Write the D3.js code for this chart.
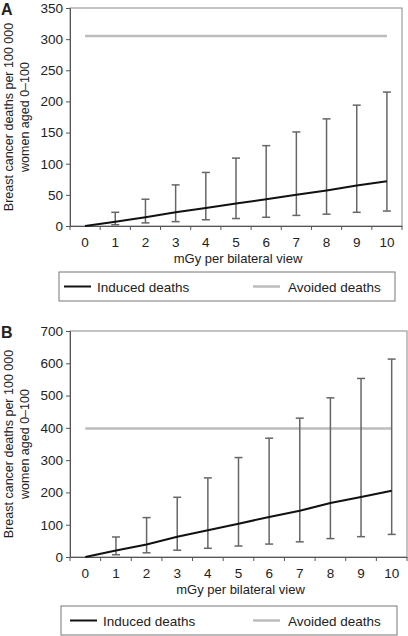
<!DOCTYPE html>
<html><head><meta charset="utf-8">
<script src="https://cdn.jsdelivr.net/npm/d3@7"></script>
<style>body{margin:0;background:#fff}svg{display:block}text{font-family:"Liberation Sans",Arial,sans-serif;fill:#222}</style>
</head><body><svg id="c" width="408" height="636"></svg>
<script>
const categories = [0,1,2,3,4,5,6,7,8,9,10];
const inducedA = [0,7,14,22,29,36,43,50,57,65,72];
const lowerA   = [0,2,5,7,10,12,14,17,19,22,24];
const upperA   = [0,22,43,66,86,109,129,151,172,194,215];
const avoidedA = [305,305,305,305,305,305,305,305,305,305,305];
const inducedB = [0,20,39,63,83,103,124,143,167,186,205];
const lowerB   = [0,7,13,21,27,34,40,47,57,63,70];
const upperB   = [0,62,122,185,245,308,368,430,493,553,613];
const avoidedB = [398,398,398,398,398,398,398,398,398,398,398];
const ticksA = [0,50,100,150,200,250,300,350];
const ticksB = [0,100,200,300,400,500,600,700];
const xTitle = "mGy per bilateral view";
const yTitle = ["Breast cancer deaths per 100 000","women aged 0–100"];
const legendLabels = ["Induced deaths","Avoided deaths"];

const svg = d3.select("#c");

function panel(o){
  const g = svg.append("g");
  const x = d3.scaleBand().domain(categories).range([o.left,o.right]);
  const y = d3.scaleLinear().domain([0,o.max]).range([o.bottom,o.top]);
  const cx = d => x(d)+x.bandwidth()/2;
  g.append("rect").attr("x",o.left).attr("y",o.top).attr("width",o.right-o.left).attr("height",o.bottom-o.top)
    .attr("fill","none").attr("stroke","#888").attr("stroke-width",1);
  const ya = g.append("g").attr("transform",`translate(${o.left},0)`)
    .call(d3.axisLeft(y).tickValues(o.ticks).tickSize(4).tickPadding(3).tickFormat(d3.format("d")));
  ya.select(".domain").attr("stroke","#555");
  ya.selectAll(".tick line").attr("stroke","#555");
  ya.selectAll("text").attr("font-size",13.5).attr("fill","#222");
  const xa = g.append("g").attr("transform",`translate(0,${o.bottom})`)
    .call(d3.axisBottom(x).tickSize(0).tickPadding(11));
  xa.select(".domain").attr("stroke","#555");
  xa.selectAll("text").attr("font-size",13.5).attr("fill","#222");
  g.selectAll(".xt").data(categories.concat([categories.length])).enter().append("line")
    .attr("x1",(d,i)=>o.left+i*x.step()).attr("x2",(d,i)=>o.left+i*x.step())
    .attr("y1",o.bottom).attr("y2",o.bottom+4).attr("stroke","#555");
  g.append("path").datum(o.avoided).attr("fill","none").attr("stroke","#bdbdbd").attr("stroke-width",2.5)
    .attr("d",d3.line().x((d,i)=>cx(categories[i])).y(d=>y(d)));
  const eb = g.selectAll(".eb").data(categories.filter(c=>c>0)).enter().append("g").attr("stroke","#666").attr("stroke-width",1.5);
  eb.append("line").attr("x1",d=>cx(d)).attr("x2",d=>cx(d)).attr("y1",d=>y(o.lower[d])).attr("y2",d=>y(o.upper[d]));
  eb.append("line").attr("x1",d=>cx(d)-4).attr("x2",d=>cx(d)+4).attr("y1",d=>y(o.lower[d])).attr("y2",d=>y(o.lower[d]));
  eb.append("line").attr("x1",d=>cx(d)-4).attr("x2",d=>cx(d)+4).attr("y1",d=>y(o.upper[d])).attr("y2",d=>y(o.upper[d]));
  g.append("path").datum(o.induced).attr("fill","none").attr("stroke","#111").attr("stroke-width",2)
    .attr("d",d3.line().x((d,i)=>cx(categories[i])).y(d=>y(d)));
  g.append("text").attr("x",(o.left+o.right)/2 + 2).attr("y",o.bottom+37).attr("text-anchor","middle").attr("font-size",13).text(xTitle);
  const ym = (o.top+o.bottom)/2;
  const yt = g.append("text").attr("transform",`translate(13,${ym}) rotate(-90)`).attr("text-anchor","middle").attr("font-size",12.5);
  yt.append("tspan").attr("x",0).attr("dy",0).text(yTitle[0]);
  yt.append("tspan").attr("x",0).attr("dy",16).text(yTitle[1]);
  g.append("text").attr("x",1).attr("y",o.top+7).attr("font-size",16).attr("font-weight","bold").attr("fill","#000").text(o.label);
  const L = o.legend;
  g.append("rect").attr("x",L.x).attr("y",L.y).attr("width",L.w).attr("height",L.h).attr("fill","#fff").attr("stroke","#777").attr("stroke-width",1);
  const my = L.y+L.h/2;
  g.append("line").attr("x1",L.s1).attr("x2",L.s1+27).attr("y1",my).attr("y2",my).attr("stroke","#111").attr("stroke-width",2);
  g.append("text").attr("x",L.s1+33).attr("y",my+5).attr("font-size",13.5).text(legendLabels[0]);
  g.append("line").attr("x1",253).attr("x2",280).attr("y1",my).attr("y2",my).attr("stroke","#bdbdbd").attr("stroke-width",2.5);
  g.append("text").attr("x",288).attr("y",my+5).attr("font-size",13.5).text(legendLabels[1]);
}

panel({label:"A",left:70,right:402,top:8,bottom:226,max:350,ticks:ticksA,
  induced:inducedA,lower:lowerA,upper:upperA,avoided:avoidedA,
  legend:{x:59,y:272,w:336,h:29,s1:64}});
panel({label:"B",left:70,right:407,top:331,bottom:557,max:700,ticks:ticksB,
  induced:inducedB,lower:lowerB,upper:upperB,avoided:avoidedB,
  legend:{x:61,y:606,w:336,h:29,s1:70}});
</script></body></html>
